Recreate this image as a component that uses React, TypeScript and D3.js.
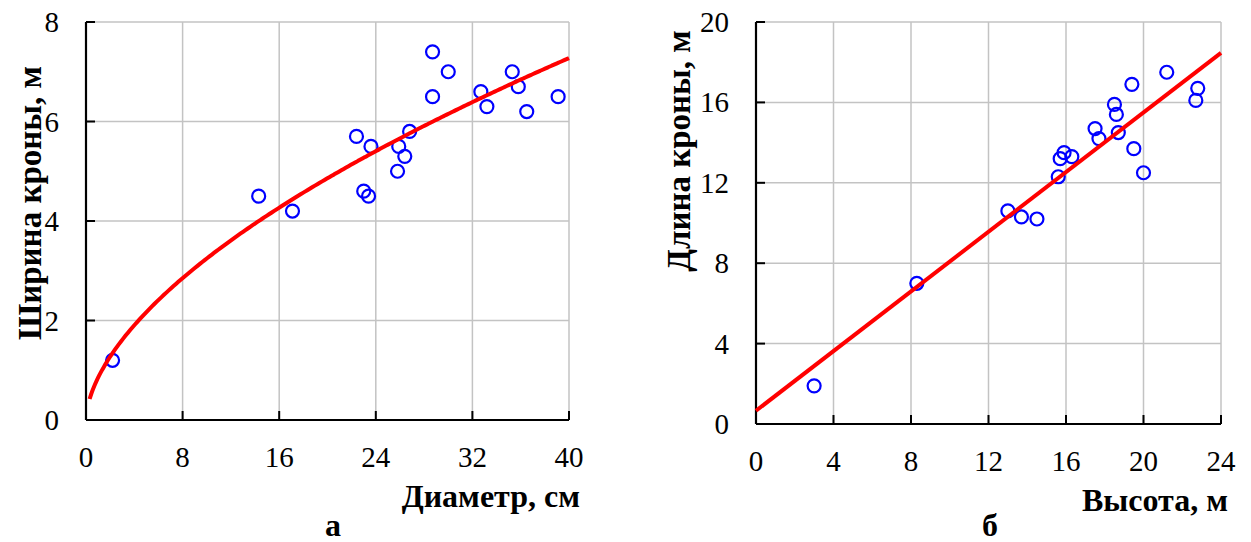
import React from "react";
import * as d3 from "d3";

// Panel а: crown width vs. stem diameter
const diameterCm = [2.2, 14.3, 17.1, 22.4, 23.6, 23.0, 23.4, 25.8, 26.4, 25.9, 26.8, 28.7, 30.0, 28.7, 32.7, 33.2, 35.3, 35.8, 36.5, 39.1];
const crownWidthM = [1.2, 4.5, 4.2, 5.7, 5.5, 4.6, 4.5, 5.0, 5.3, 5.5, 5.8, 7.4, 7.0, 6.5, 6.6, 6.3, 7.0, 6.7, 6.2, 6.5];
const diameterTicks = [0, 8, 16, 24, 32, 40];
const widthTicks = [0, 2, 4, 6, 8];
// power trend y = a * x^b
const powerA = 0.85;
const powerB = 0.582;
const powerXFrom = 0.3;
const powerXTo = 40;

// Panel б: crown length vs. tree height
const heightM = [3.0, 8.3, 13.0, 13.7, 14.5, 15.6, 15.7, 15.9, 16.3, 17.5, 17.7, 18.5, 18.6, 18.7, 19.4, 19.5, 20.0, 21.2, 22.8, 22.7];
const crownLengthM = [1.9, 7.0, 10.6, 10.3, 10.2, 12.3, 13.2, 13.5, 13.3, 14.7, 14.2, 15.9, 15.4, 14.5, 16.9, 13.7, 12.5, 17.5, 16.7, 16.1];
const heightTicks = [0, 4, 8, 12, 16, 20, 24];
const lengthTicks = [0, 4, 8, 12, 16, 20];
// linear trend y = k * x + c
const linK = 0.742;
const linC = 0.66;

const FONT = "Liberation Serif, Times New Roman, serif";
const GRID = "#c3c3c3";
const tickStyle: React.CSSProperties = { fontFamily: FONT, fontSize: 29 };
const xTitleStyle: React.CSSProperties = { fontFamily: FONT, fontSize: 32, fontWeight: 700 };
const yTitleStyle: React.CSSProperties = { fontFamily: FONT, fontSize: 33, fontWeight: 700 };

type PanelProps = {
  xs: number[];
  ys: number[];
  xTicks: number[];
  yTicks: number[];
  xRange: [number, number];
  yRange: [number, number];
  trend: [number, number][];
  xTitle: string;
  yTitle: string;
  xTitleX: number;
  xTitleY: number;
  yTitleX: number;
  yTitleY: number;
  caption: string;
  captionX: number;
  captionY: number;
};

function Panel(p: PanelProps) {
  const x = d3.scaleLinear().domain([p.xTicks[0], p.xTicks[p.xTicks.length - 1]]).range(p.xRange);
  const y = d3.scaleLinear().domain([p.yTicks[0], p.yTicks[p.yTicks.length - 1]]).range(p.yRange);
  const [x0, x1] = p.xRange;
  const [y0, y1] = p.yRange;
  const line = d3
    .line<[number, number]>()
    .x((d) => x(d[0]))
    .y((d) => y(d[1]))
    .curve(d3.curveMonotoneX);
  return (
    <g>
      {/* grid */}
      {p.xTicks.slice(1).map((t) => (
        <line key={"gx" + t} x1={x(t)} x2={x(t)} y1={y0} y2={y1} stroke={GRID} strokeWidth={1.5} />
      ))}
      {p.yTicks.slice(1).map((t) => (
        <line key={"gy" + t} x1={x0} x2={x1} y1={y(t)} y2={y(t)} stroke={GRID} strokeWidth={1.5} />
      ))}
      {/* axes with inward ticks */}
      <line x1={x0} x2={x1} y1={y0} y2={y0} stroke="#000" strokeWidth={2.2} />
      <line x1={x0} x2={x0} y1={y0} y2={y1} stroke="#000" strokeWidth={2.2} />
      {p.xTicks.map((t) => (
        <line key={"tx" + t} x1={x(t)} x2={x(t)} y1={y0} y2={y0 - 9} stroke="#000" strokeWidth={2} />
      ))}
      {p.yTicks.map((t) => (
        <line key={"ty" + t} x1={x0} x2={x0 + 9} y1={y(t)} y2={y(t)} stroke="#000" strokeWidth={2} />
      ))}
      {/* tick labels */}
      {p.xTicks.map((t) => (
        <text key={"lx" + t} x={x(t)} y={y0 + 47} textAnchor="middle" style={tickStyle} fill="#000">
          {t}
        </text>
      ))}
      {p.yTicks.map((t) => (
        <text key={"ly" + t} x={x0 - 27} y={y(t) + 10} textAnchor="end" style={tickStyle} fill="#000">
          {t}
        </text>
      ))}
      {/* observations */}
      {p.xs.map((v, i) => (
        <circle key={"pt" + i} cx={x(v)} cy={y(p.ys[i])} r={6.5} fill="none" stroke="#0000ff" strokeWidth={2.2} />
      ))}
      {/* trend */}
      <path d={line(p.trend) || ""} fill="none" stroke="#ff0000" strokeWidth={4} />
      {/* titles */}
      <text x={p.xTitleX} y={p.xTitleY} textAnchor="end" style={xTitleStyle} fill="#000">
        {p.xTitle}
      </text>
      <text
        transform={`translate(${p.yTitleX},${p.yTitleY}) rotate(-90)`}
        textAnchor="middle"
        style={yTitleStyle}
        fill="#000"
      >
        {p.yTitle}
      </text>
      <text x={p.captionX} y={p.captionY} textAnchor="middle" style={xTitleStyle} fill="#000">
        {p.caption}
      </text>
    </g>
  );
}

export default function App() {
  const powerTrend: [number, number][] = d3
    .range(0, 201)
    .map((i) => powerXFrom + ((powerXTo - powerXFrom) * i) / 200)
    .map((v) => [v, powerA * Math.pow(v, powerB)] as [number, number]);
  const linTrend: [number, number][] = [0, 24].map((v) => [v, linK * v + linC] as [number, number]);

  return (
    <svg width={1251} height={542} style={{ position: "absolute", left: 0, top: 0, background: "#fff" }}>
      <rect width={1251} height={542} fill="#fff" />
      <Panel
        xs={diameterCm}
        ys={crownWidthM}
        xTicks={diameterTicks}
        yTicks={widthTicks}
        xRange={[86, 569]}
        yRange={[420, 22]}
        trend={powerTrend}
        xTitle="Диаметр, см"
        yTitle="Ширина кроны, м"
        xTitleX={580}
        xTitleY={507}
        yTitleX={41}
        yTitleY={203}
        caption="а"
        captionX={333}
        captionY={536}
      />
      <Panel
        xs={heightM}
        ys={crownLengthM}
        xTicks={heightTicks}
        yTicks={lengthTicks}
        xRange={[756, 1221]}
        yRange={[424, 22]}
        trend={linTrend}
        xTitle="Высота, м"
        yTitle="Длина кроны, м"
        xTitleX={1228}
        xTitleY={511}
        yTitleX={690}
        yTitleY={151}
        caption="б"
        captionX={990}
        captionY={536}
      />
    </svg>
  );
}
